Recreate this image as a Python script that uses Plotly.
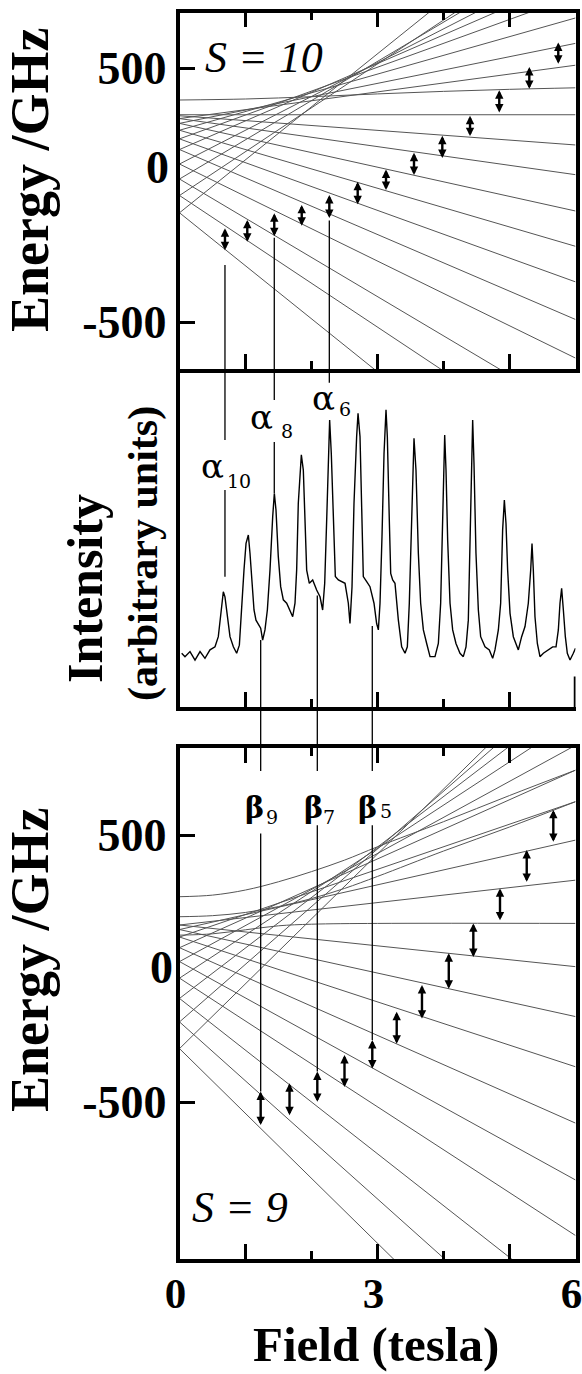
import plotly.graph_objects as go

W, H = 582, 1374

# ---------------- data ----------------
FIELD_MAJOR = [0, 1, 3, 5, 6]
FIELD_MAJOR_TEXT = ['0', '', '3', '', '6']
FIELD_MINOR = [2, 4]
ENERGY_TICKS = [500, -500]
ENERGY_TICK_TEXT = ['500', '-500']

# S = 10 energy levels (GHz): straight falling / rising branches, values at B=0 and B=6 T
S10_FALL_E0 = [312, 301, 282, 255, 221, 179, 122, 63, -2, -70]
S10_FALL_E6 = [197, 80, -63, -202, -342, -490, -642, -863, -1038, -1322]
S10_RISE_E0 = [301, 282, 255, 221, 179, 122, 63, -2, -70]
S10_RISE_E6 = [511, 597, 697, 785, 856, 920, 989, 1034, 1182]
S10_FLAT = 316
S10_CURVE_B = [0, 1, 2, 3, 4, 5, 6]
S10_CURVE_E = [374, 378, 387, 398, 408, 416, 422]

# S = 9 energy levels (GHz)
S9_FALL_E0 = [163, 146, 118, 78, 26, -36, -112, -200, -300]
S9_FALL_E6 = [7, -180, -368, -579, -792, -1000, -1276, -1526, -1758]
S9_RISE_E0 = [163, 146, 118, 78, 26, -36, -112, -200, -300]
S9_RISE_E6 = [331, 481, 625, 743, 836, 936, 1022, 1096, 1158]
S9_CURVE_B = [0, 0.5, 1, 1.5, 2, 2.5, 3, 4, 5, 6]
S9_CURVE1_E = [269, 275, 294, 325, 363, 406, 456, 550, 648, 743]
S9_CURVE2_E = [194, 198, 210, 232, 262, 300, 345, 440, 530, 625]
S9_ZERO_B = [0, 0.5, 1, 1.5, 2, 3, 6]
S9_ZERO_E = [125, 130, 145, 160, 166, 169, 169]

# transitions (double arrows): field (T), upper and lower level (GHz)
S10_ARROW_B = [0.689, 1.027, 1.436, 1.852, 2.270, 2.700, 3.129, 3.553, 3.982, 4.402, 4.845, 5.300, 5.739]
S10_ARROW_HI = [-131, -98, -72, -39, 0, 52, 100, 166, 233, 312, 412, 504, 600]
S10_ARROW_LO = [-223, -190, -168, -127, -96, -42, 14, 73, 140, 226, 319, 412, 511]

S9_ARROW_B = [1.230, 1.667, 2.088, 2.500, 2.921, 3.291, 3.674, 4.080, 4.452, 4.856, 5.261, 5.664]
S9_ARROW_HI = [-461, -430, -386, -324, -268, -162, -62, 57, 169, 300, 444, 594]
S9_ARROW_LO = [-592, -555, -505, -449, -380, -287, -193, -81, 38, 175, 319, 469]

# EPR spectrum (field in T, intensity in arbitrary units)
SPEC_B = [0.033, 0.083, 0.159, 0.235, 0.311, 0.386, 0.462, 0.538, 0.588, 0.624, 0.664, 0.689, 0.725,
          0.765, 0.816, 0.866, 0.907, 0.942, 0.977, 1.008, 1.043, 1.068, 1.098, 1.129, 1.159, 1.194,
          1.230, 1.260, 1.295, 1.331, 1.371, 1.412, 1.437, 1.462, 1.497, 1.533, 1.573, 1.624, 1.674,
          1.715, 1.750, 1.775, 1.800, 1.826, 1.846, 1.876, 1.902, 1.927, 1.967, 2.018, 2.078, 2.129,
          2.169, 2.200, 2.230, 2.255, 2.275, 2.300, 2.331, 2.361, 2.407, 2.457, 2.508, 2.558, 2.583,
          2.614, 2.644, 2.684, 2.705, 2.735, 2.760, 2.785, 2.836, 2.886, 2.947, 2.987, 3.013, 3.038,
          3.068, 3.099, 3.129, 3.149, 3.179, 3.200, 3.230, 3.265, 3.316, 3.366, 3.417, 3.452, 3.482,
          3.513, 3.538, 3.553, 3.583, 3.619, 3.654, 3.695, 3.745, 3.796, 3.871, 3.922, 3.957, 3.982,
          4.003, 4.018, 4.038, 4.063, 4.099, 4.139, 4.189, 4.250, 4.300, 4.341, 4.376, 4.401, 4.427,
          4.442, 4.462, 4.492, 4.528, 4.563, 4.629, 4.694, 4.745, 4.780, 4.831, 4.866, 4.896, 4.922,
          4.947, 4.972, 5.008, 5.058, 5.134, 5.184, 5.235, 5.285, 5.321, 5.341, 5.361, 5.386, 5.422,
          5.462, 5.513, 5.588, 5.654, 5.705, 5.740, 5.765, 5.790, 5.816, 5.846, 5.876, 5.917, 5.967,
          6.000]
SPEC_I = [15.9, 14.9, 16.4, 13.9, 16.4, 14.4, 16.9, 17.8, 20.8, 26.7, 34.1, 32.6, 26.7,
          20.8, 17.8, 15.9, 18.3, 30.7, 40.5, 48.4, 50.9, 45.5, 36.6, 28.7, 25.7, 24.7,
          23.3, 19.8, 22.8, 28.7, 40.5, 56.3, 63.2, 58.3, 44.5, 35.6, 31.7, 30.7, 28.7,
          26.7, 30.7, 40.5, 60.3, 70.1, 74.6, 70.1, 55.3, 40.5, 36.6, 37.6, 34.6, 32.6,
          28.7, 36.6, 55.3, 70.1, 84.9, 75.0, 55.3, 38.6, 37.6, 37.1, 36.6, 30.7, 24.7,
          35.6, 60.3, 80.0, 86.9, 80.0, 55.3, 38.6, 37.1, 35.6, 30.7, 24.7, 22.8, 30.7,
          50.4, 75.0, 87.9, 80.0, 55.3, 39.5, 37.6, 36.6, 25.7, 17.8, 15.9, 17.8, 30.7,
          55.3, 75.0, 79.5, 70.1, 45.5, 30.7, 22.8, 18.8, 14.9, 14.9, 18.8, 30.7, 55.3,
          72.1, 80.5, 70.1, 49.4, 30.7, 22.8, 18.8, 15.9, 14.9, 17.8, 25.7, 45.5, 70.1,
          84.9, 72.1, 45.5, 28.7, 20.8, 17.8, 16.9, 14.4, 16.9, 22.8, 30.7, 52.4, 61.2,
          54.3, 40.5, 27.7, 20.8, 16.9, 20.8, 23.8, 30.7, 40.5, 48.4, 40.5, 26.7, 18.8,
          14.9, 15.9, 16.9, 17.8, 17.8, 22.8, 30.7, 35.1, 28.7, 20.8, 15.9, 13.9, 15.9,
          17.4]

# connector lines and labels
ALPHA_IDX = [0, 2, 4]              # which S=10 arrows are labelled
ALPHA_SUB = ['10', '8', '6']
ALPHA_START_E = [-276, -168, -100]  # where line leaves the arrow (GHz)
ALPHA_GAP_TOP = [79.0, 90.8, 95.9]  # intensity units
ALPHA_GAP_BOT = [64.2, 78.4, 87.0]
ALPHA_PEAK = [38.5, 63.3, 87.0]
ALPHA_LABEL_I = [71.2, 85.9, 91.3]
ALPHA_SUB_I = [67.0, 81.8, 88.2]
ALPHA_SHIFT = [-12.6, -12.6, -6.0]
ALPHA_SUB_SHIFT = [14.0, 13.0, 15.5]

BETA_IDX = [0, 2, 4]
BETA_SUB = ['9', '7', '5']
BETA_START_I = [19.8, 33.0, 24.0]
BETA_GAP_TOP_E = [740, 740, 740]
BETA_GAP_BOT_E = [506, 537, 537]
BETA_LABEL_E = [603, 603, 603]
BETA_SUB_E = [569, 569, 590]
BETA_SHIFT = [-6.2, -4.3, -4.3]
BETA_SUB_SHIFT = [11.5, 11.5, 14.0]

# ---------------- layout geometry ----------------
def px_y(py):
    return 1 - py / H

X_DOM = [179.5 / W, 575.5 / W]
TOP_DOM = [px_y(369), px_y(12.5)]
MID_DOM = [px_y(707), px_y(369)]
BOT_DOM = [px_y(1259), px_y(748)]
TOP_RANGE = [-685, 718.5]
MID_RANGE = [0, 100]
BOT_RANGE = [-1088, 826]
X_RANGE = [0, 6]


def to_paper(v, dom, rng):
    return dom[0] + (v - rng[0]) / (rng[1] - rng[0]) * (dom[1] - dom[0])


SERIF = 'Liberation Serif'
GREEK = 'DejaVu Serif'
LEVEL_COLOR = '#555555'
LEVEL_W = 1.0

fig = go.Figure()


def add_line(xs, ys, xa, ya, spline=False):
    fig.add_trace(go.Scatter(x=xs, y=ys, mode='lines', xaxis=xa, yaxis=ya,
                             line=dict(color=LEVEL_COLOR, width=LEVEL_W,
                                       shape='spline' if spline else 'linear'),
                             hoverinfo='skip', showlegend=False))


# S=10 levels
for e0, e6 in zip(S10_FALL_E0, S10_FALL_E6):
    add_line([0, 6], [e0, e6], 'x', 'y')
for e0, e6 in zip(S10_RISE_E0, S10_RISE_E6):
    add_line([0, 6], [e0, e6], 'x', 'y')
add_line([0, 6], [S10_FLAT, S10_FLAT], 'x', 'y')
add_line(S10_CURVE_B, S10_CURVE_E, 'x', 'y', spline=True)

# S=9 levels
for e0, e6 in zip(S9_FALL_E0, S9_FALL_E6):
    add_line([0, 6], [e0, e6], 'x3', 'y3')
for e0, e6 in zip(S9_RISE_E0, S9_RISE_E6):
    add_line([0, 6], [e0, e6], 'x3', 'y3')
add_line(S9_CURVE_B, S9_CURVE1_E, 'x3', 'y3', spline=True)
add_line(S9_CURVE_B, S9_CURVE2_E, 'x3', 'y3', spline=True)
add_line(S9_ZERO_B, S9_ZERO_E, 'x3', 'y3', spline=True)

# spectrum
fig.add_trace(go.Scatter(x=SPEC_B, y=SPEC_I, mode='lines', xaxis='x2', yaxis='y2',
                         line=dict(color='black', width=1.4), hoverinfo='skip', showlegend=False))

annotations = []
shapes = []


def double_arrow(b, hi, lo, xa, ya):
    annotations.append(dict(x=b, y=hi, ax=b, ay=lo, xref=xa, yref=ya, axref=xa, ayref=ya,
                            text='', showarrow=True, arrowhead=2, startarrowhead=2,
                            arrowside='end+start', arrowsize=0.7, startarrowsize=0.7,
                            arrowwidth=2.4, arrowcolor='black', standoff=0, startstandoff=0))


for b, hi, lo in zip(S10_ARROW_B, S10_ARROW_HI, S10_ARROW_LO):
    double_arrow(b, hi, lo, 'x', 'y')
for b, hi, lo in zip(S9_ARROW_B, S9_ARROW_HI, S9_ARROW_LO):
    double_arrow(b, hi, lo, 'x3', 'y3')


def vline(b, p0, p1):
    shapes.append(dict(type='line', xref='x', yref='paper', x0=b, x1=b, y0=p0, y1=p1,
                       line=dict(color='black', width=1.3)))


# alpha connectors and labels
for k, i in enumerate(ALPHA_IDX):
    b = S10_ARROW_B[i]
    vline(b, to_paper(ALPHA_START_E[k], TOP_DOM, TOP_RANGE), to_paper(ALPHA_GAP_TOP[k], MID_DOM, MID_RANGE))
    if ALPHA_GAP_BOT[k] > ALPHA_PEAK[k]:
        vline(b, to_paper(ALPHA_GAP_BOT[k], MID_DOM, MID_RANGE), to_paper(ALPHA_PEAK[k], MID_DOM, MID_RANGE))
    annotations.append(dict(x=b, y=ALPHA_LABEL_I[k], xref='x2', yref='y2', text='α',
                            xshift=ALPHA_SHIFT[k], showarrow=False,
                            font=dict(family=GREEK, size=34, color='black')))
    annotations.append(dict(x=b, y=ALPHA_SUB_I[k], xref='x2', yref='y2', text=ALPHA_SUB[k],
                            xshift=ALPHA_SUB_SHIFT[k], showarrow=False,
                            font=dict(family=GREEK, size=19, color='black')))

# beta connectors and labels
for k, i in enumerate(BETA_IDX):
    b = S9_ARROW_B[i]
    vline(b, to_paper(BETA_START_I[k], MID_DOM, MID_RANGE), to_paper(BETA_GAP_TOP_E[k], BOT_DOM, BOT_RANGE))
    vline(b, to_paper(BETA_GAP_BOT_E[k], BOT_DOM, BOT_RANGE), to_paper(S9_ARROW_HI[i], BOT_DOM, BOT_RANGE))
    annotations.append(dict(x=b, y=BETA_LABEL_E[k], xref='x3', yref='y3', text='<b>β</b>',
                            xshift=BETA_SHIFT[k], showarrow=False,
                            font=dict(family=GREEK, size=29, color='black')))
    annotations.append(dict(x=b, y=BETA_SUB_E[k], xref='x3', yref='y3', text=BETA_SUB[k],
                            xshift=BETA_SUB_SHIFT[k], showarrow=False,
                            font=dict(family=GREEK, size=19, color='black')))

# right-hand end mark of the middle panel
shapes.append(dict(type='line', xref='x2', yref='y2', x0=6, x1=6, y0=0, y1=9,
                   line=dict(color='black', width=3.5)))


def text_px(txt, px, py, size, angle=0, bold=True, italic=False, family=SERIF, yanchor='middle'):
    annotations.append(dict(x=px / W, y=px_y(py), xref='paper', yref='paper', text=txt,
                            showarrow=False, textangle=angle, xanchor='center', yanchor=yanchor,
                            font=dict(family=family, size=size, color='black',
                                      weight='bold' if bold else 'normal',
                                      style='italic' if italic else 'normal')))


text_px('Energy /GHz', 30, 180, 54, angle=-90)
text_px('Energy /GHz', 30, 960, 54, angle=-90)
text_px('Intensity', 85, 589, 50, angle=-90)
text_px('(arbitrary units)', 143, 554, 42, angle=-90)
text_px('Field (tesla)', 376, 1374, 49, yanchor='bottom')
text_px('0', 157, 168, 46)
text_px('0', 161, 967, 46)
text_px('S = 10', 264, 58, 44, bold=False, italic=True)
text_px('S = 9', 240, 1207, 44, bold=False, italic=True)

TICKFONT = dict(family=SERIF, size=46, color='black', weight='bold')
XTICKFONT = dict(family=SERIF, size=43, color='black', weight='bold')
LINE_W = 3.5

common_x = dict(domain=X_DOM, range=X_RANGE, showline=True, linecolor='black', linewidth=LINE_W,
                showgrid=False, zeroline=False, ticks='inside', tickwidth=3, tickcolor='black',
                tickmode='array', tickvals=FIELD_MAJOR, ticklen=15,
                minor=dict(tickmode='array', tickvals=FIELD_MINOR, ticks='inside', ticklen=8,
                           tickwidth=3, tickcolor='black', showgrid=False))

common_y = dict(showline=True, linecolor='black', linewidth=LINE_W, showgrid=False, zeroline=False)

fig.update_layout(
    width=W, height=H, margin=dict(l=0, r=0, t=0, b=0, autoexpand=False),
    paper_bgcolor='white', plot_bgcolor='white', showlegend=False,
    xaxis=dict(common_x, anchor='y', mirror='ticks', showticklabels=False),
    yaxis=dict(common_y, domain=TOP_DOM, range=TOP_RANGE, anchor='x', mirror=True,
               ticks='inside', tickwidth=3, tickcolor='black', ticklen=16,
               tickmode='array', tickvals=ENERGY_TICKS, ticktext=ENERGY_TICK_TEXT, tickfont=TICKFONT),
    xaxis2=dict(common_x, anchor='y2', mirror=False, showticklabels=False),
    yaxis2=dict(common_y, domain=MID_DOM, range=MID_RANGE, anchor='x2', mirror=False,
                ticks='', showticklabels=False),
    xaxis3=dict(common_x, anchor='y3', mirror='ticks', showticklabels=True,
                ticktext=FIELD_MAJOR_TEXT, tickfont=XTICKFONT, ticklabelstandoff=-6,
                ticklabelshift=-4, ticklabeloverflow='allow'),
    yaxis3=dict(common_y, domain=BOT_DOM, range=BOT_RANGE, anchor='x3', mirror=True,
                ticks='inside', tickwidth=3, tickcolor='black', ticklen=16,
                tickmode='array', tickvals=ENERGY_TICKS, ticktext=ENERGY_TICK_TEXT, tickfont=TICKFONT),
    annotations=annotations, shapes=shapes,
)

fig.write_html('out.html', config={'displayModeBar': False},
               post_script="document.body.style.margin='0';document.body.style.overflow='hidden';")
